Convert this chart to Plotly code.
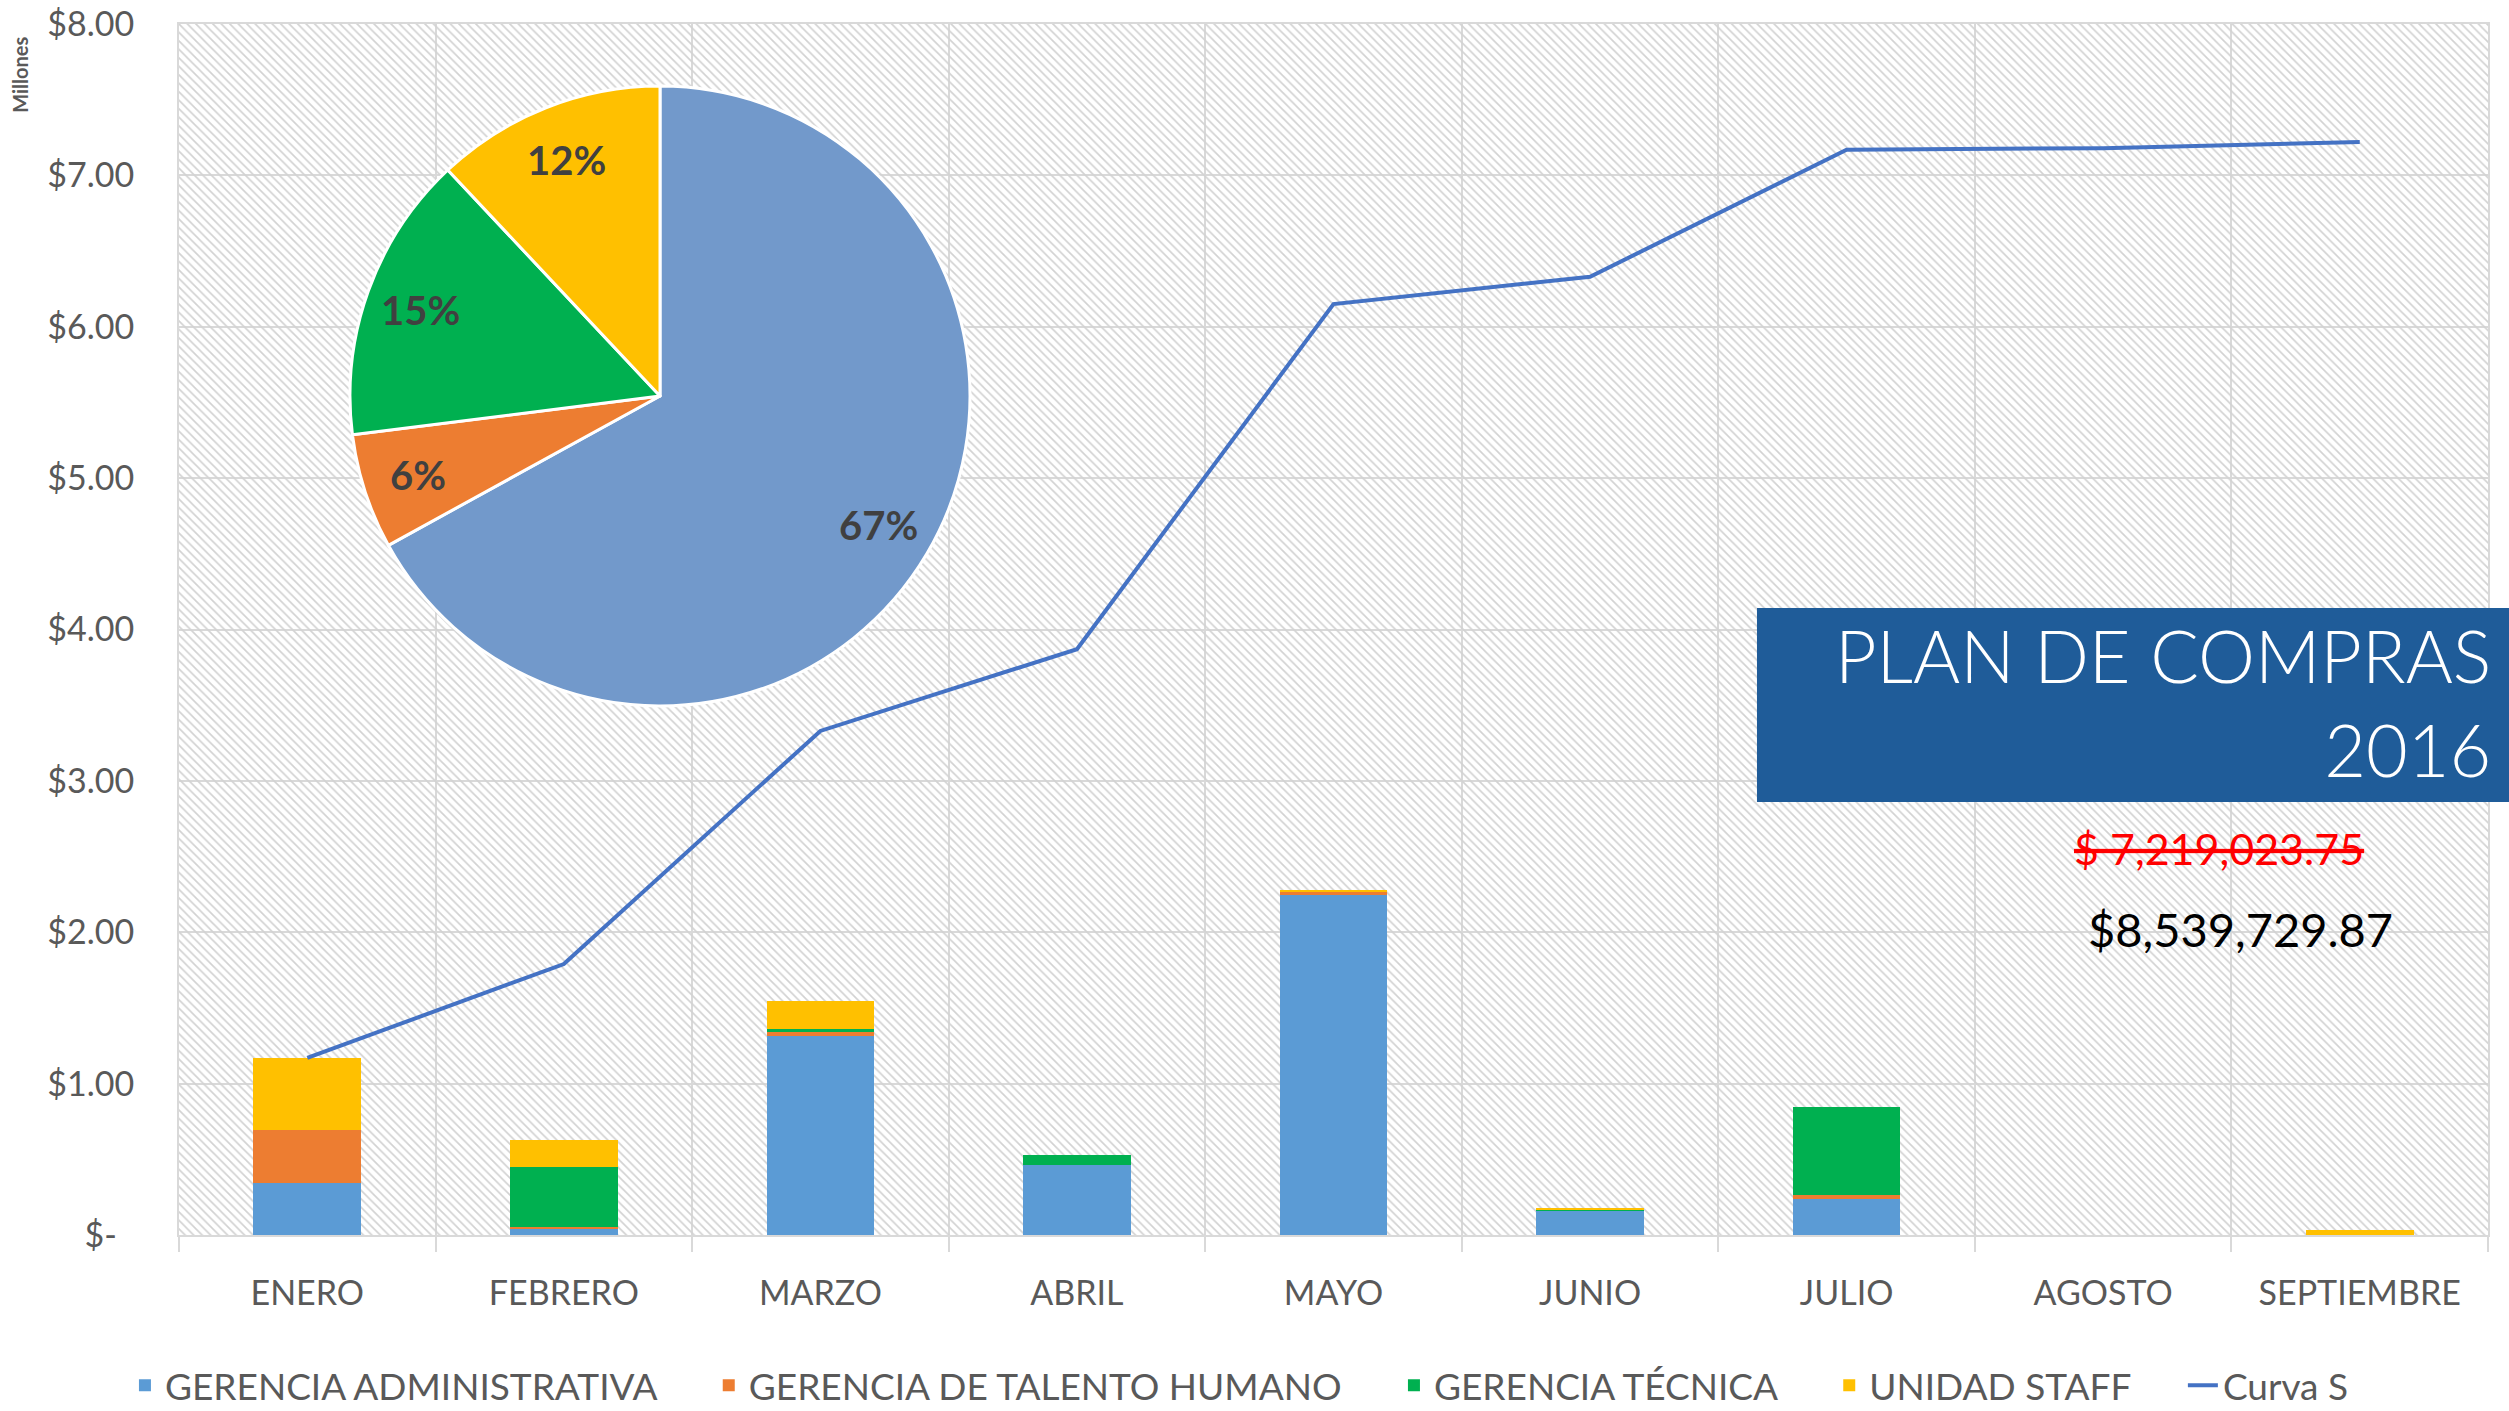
"""
    Plan de compras 2016: barras apiladas por gerencia, curva S acumulada y pastel de participacion.
"""
import math
import plotly.graph_objects as go

meses = ["ENERO", "FEBRERO", "MARZO", "ABRIL", "MAYO", "JUNIO", "JULIO", "AGOSTO", "SEPTIEMBRE"]

# valores en millones de pesos
gerencia_administrativa = [0.344, 0.045, 1.312, 0.462, 2.245, 0.160, 0.235, 0.0, 0.0]
gerencia_talento_humano = [0.350, 0.010, 0.035, 0.0, 0.025, 0.004, 0.030, 0.0, 0.0]
gerencia_tecnica = [0.0, 0.395, 0.012, 0.067, 0.0, 0.002, 0.581, 0.0, 0.0]
unidad_staff = [0.478, 0.175, 0.188, 0.0, 0.012, 0.010, 0.0, 0.0, 0.034]
curva_s = [1.17, 1.79, 3.33, 3.87, 6.15, 6.33, 7.17, 7.18, 7.22]

pie_labels = ["GERENCIA ADMINISTRATIVA", "GERENCIA DE TALENTO HUMANO", "GERENCIA TÉCNICA", "UNIDAD STAFF"]
pie_pct = [67, 6, 15, 12]

y_ticks = [0, 1, 2, 3, 4, 5, 6, 7, 8]
y_ticktext = ["$-\u00a0\u00a0", "$1.00", "$2.00", "$3.00", "$4.00", "$5.00", "$6.00", "$7.00", "$8.00"]

presupuesto_inicial = "$ 7,219,023.75"
presupuesto_final = "$8,539,729.87"

colores = ["#5B9BD5", "#ED7D31", "#00B050", "#FFC000"]
FONT = "Lato, 'Open Sans', sans-serif"
GRIS = "#595959"
GRID = "#D9D9D9"
ESPACIO = "\u00a0" * 5  # separacion entre entradas de la leyenda

# geometria (pixeles de la figura)
W, H = 2509, 1411
ML, MR, MT, MB = 179, 21, 24, 176
PW, PH = W - ML - MR, H - MT - MB
PIE_CX, PIE_CY, PIE_R = 660, 396, 310


def px_to_paper(px, py):
    return (px - ML) / PW, (H - MB - py) / PH


fig = go.Figure()

# fondo rayado del area de trazado
fig.add_trace(go.Bar(
    x=[meses[4]], y=[y_ticks[-1]], width=len(meses),
    marker=dict(color="#D2D2D2", line=dict(width=0),
                pattern=dict(shape="\\", size=6, solidity=0.28, fillmode="replace")),
    showlegend=False, hoverinfo="skip",
))

series = [gerencia_administrativa, gerencia_talento_humano, gerencia_tecnica, unidad_staff]
for nombre, valores, color in zip(pie_labels, series, colores):
    fig.add_trace(go.Bar(
        x=meses, y=valores, name=nombre + ESPACIO, yaxis="y2",
        marker=dict(color=color, line=dict(width=0)),
    ))

fig.add_trace(go.Scatter(
    x=meses, y=curva_s, name="Curva S", yaxis="y2", mode="lines",
    line=dict(color="#4472C4", width=4),
))

x0, y1 = px_to_paper(PIE_CX - PIE_R, PIE_CY - PIE_R)
x1, y0 = px_to_paper(PIE_CX + PIE_R, PIE_CY + PIE_R)
fig.add_trace(go.Pie(
    labels=pie_labels, values=pie_pct, sort=False, direction="clockwise", rotation=0,
    marker=dict(colors=["#7299CB"] + colores[1:], line=dict(color="white", width=3)),
    textinfo="none",
    domain=dict(x=[x0, x1], y=[y0, y1]),
    showlegend=False, hoverinfo="skip",
))

# etiquetas del pastel sobre el angulo medio de cada porcion
acum = 0
for pct in pie_pct:
    medio = (acum + pct / 2) / sum(pie_pct) * 2 * math.pi
    acum += pct
    lx = PIE_CX + 0.82 * PIE_R * math.sin(medio)
    ly = PIE_CY - 0.82 * PIE_R * math.cos(medio)
    ax, ay = px_to_paper(lx, ly)
    fig.add_annotation(
        text="<b>%d%%</b>" % pct, xref="paper", yref="paper", x=ax, y=ay,
        xanchor="center", yanchor="middle", showarrow=False,
        font=dict(family=FONT, size=40, color="#404040"),
    )

fig.update_xaxes(
    type="category",
    categoryorder="array",
    categoryarray=meses,
    range=[-0.5, len(meses) - 0.5],
    automargin=False,
    tickson="boundaries",
    ticks="outside",
    ticklen=15,
    tickwidth=2,
    tickcolor=GRID,
    ticklabelstandoff=27,
    tickfont=dict(family=FONT, size=34, color=GRIS),
    showgrid=True,
    gridcolor=GRID,
    gridwidth=2,
    showline=True,
    linecolor=GRID,
    linewidth=2,
    mirror=True,
)

fig.update_layout(
    width=W,
    height=H,
    margin=dict(l=ML, r=MR, t=MT, b=MB),
    paper_bgcolor="white",
    plot_bgcolor="white",
    barmode="stack",
    bargap=0.58,
    font=dict(family=FONT, color=GRIS),
    yaxis=dict(
        range=[0, 8],
        automargin=False,
        tickvals=y_ticks,
        ticktext=y_ticktext,
        ticks="",
        ticklabelstandoff=36,
        tickfont=dict(family=FONT, size=34, color=GRIS),
        showgrid=True,
        gridcolor=GRID,
        gridwidth=2,
        zeroline=False,
        showline=True,
        linecolor=GRID,
        linewidth=2,
        mirror=True,
    ),
    yaxis2=dict(range=[0, 8], overlaying="y", visible=False),
    legend=dict(
        orientation="h",
        xref="container", yref="container",
        x=0.494, y=0.018, xanchor="center", yanchor="middle",
        font=dict(family=FONT, size=37, color=GRIS),
        traceorder="normal",
        itemwidth=30,
    ),
    showlegend=True,
)

# recuadro del titulo
fig.add_shape(
    type="rect", xref="paper", yref="paper",
    x0=0.6834, x1=1.0091, y0=0.3576, y1=0.5178,
    fillcolor="#1F5C99", line=dict(width=0), layer="above",
)

fig.add_annotation(
    text="PLAN DE COMPRAS<br>2016", xref="paper", yref="paper",
    x=1.002, y=0.44, xanchor="right", yanchor="middle", align="right",
    showarrow=False, font=dict(family=FONT, size=72, color="white", weight=300),
)

fig.add_annotation(
    text="<s>" + presupuesto_inicial + "</s>", xref="paper", yref="paper",
    x=0.8835, y=0.319, xanchor="center", yanchor="middle",
    showarrow=False, font=dict(family=FONT, size=43, color="#FF0000"),
)

fig.add_annotation(
    text=presupuesto_final, xref="paper", yref="paper",
    x=0.893, y=0.2527, xanchor="center", yanchor="middle",
    showarrow=False, font=dict(family=FONT, size=47, color="black"),
)

fig.add_annotation(
    text="<b>Millones</b>", xref="paper", yref="paper",
    x=-0.0689, y=0.958, textangle=-90, xanchor="center", yanchor="middle",
    showarrow=False, font=dict(family=FONT, size=20, color=GRIS),
)

# sin margen del body para que la figura ocupe la ventana exacta
fig.write_html(
    "out.html",
    config={"displayModeBar": False},
    post_script="document.body.style.margin='0';",
)
